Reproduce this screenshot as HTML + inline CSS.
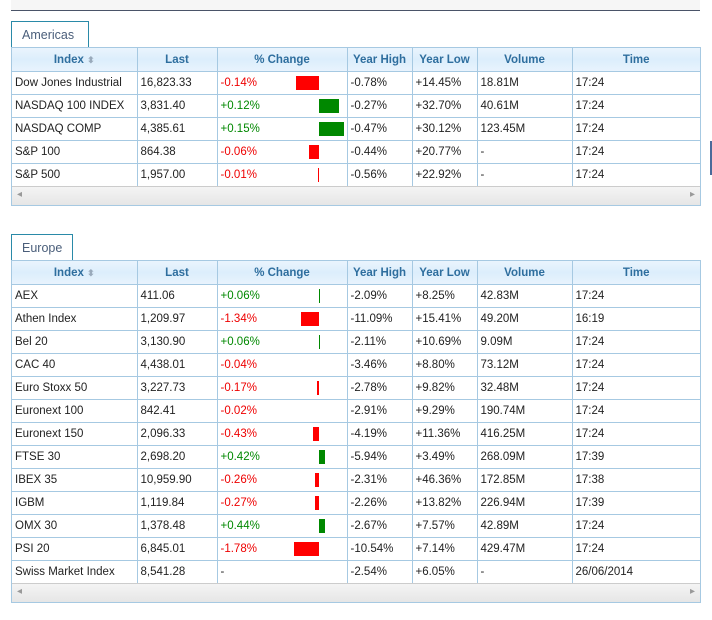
<!DOCTYPE html>
<html><head><style>
body{margin:0;width:712px;height:620px;background:#fff;position:relative;overflow:hidden;font-family:"Liberation Sans",Arial,sans-serif;font-size:11.5px;color:#222}
.top{position:absolute;top:0;height:10px;background:#f6f6f6;border-bottom:1px solid #4a5468;left:11px;width:689px}
.tab{position:absolute;left:11px;height:27px;border:1px solid #2a8aa8;border-bottom:none;background:#fff;color:#4a5e7a;font-size:12.5px;line-height:27px;padding:0 10px;box-sizing:border-box}
.wrap{position:absolute;left:11px;width:690px;border:1px solid #a6c9e2;box-sizing:border-box;background:#fff}
table{border-collapse:collapse;table-layout:fixed;width:688px}
th{height:23px;padding:0;background:linear-gradient(#eaf4fd,#dceefc 50%,#e8f3fd);color:#2e6e9e;font-weight:bold;font-size:11.5px;border-left:1px solid #a6c9e2;border-bottom:1px solid #a6c9e2;text-align:center}
td{height:22px;padding:0 0 0 3px;border-left:1px solid #a6c9e2;border-top:1px solid #a6c9e2;white-space:nowrap;overflow:hidden;position:relative}
tr:first-child td{border-top:1px dotted #555}
th:first-child,td:first-child{border-left:none}
.r{color:#e00}.g{color:#080}
.b{position:absolute;top:4px;height:14px;margin-left:-2px}
.rb{background:#f00}.gb{background:#080}
.sb{height:18px;background:linear-gradient(#f4f4f4,#e6e6e6);border-top:1px solid #ccc;position:relative}
.sb:before{content:"◂";position:absolute;left:5px;top:2px;color:#999;font-size:10px}
.sb:after{content:"▸";position:absolute;right:5px;top:2px;color:#999;font-size:10px}
.sort{color:#9ab;font-size:9px}
.side{position:absolute;left:710px;top:141px;width:2px;height:34px;background:#4a6a9a}
</style></head><body>
<div class="top"></div>
<div class="side"></div>
<div class="tab" style="top:21px;width:78px">Americas</div>
<div class="wrap" style="top:47px">
<table>
<colgroup><col style="width:125px"><col style="width:80px"><col style="width:130px"><col style="width:65px"><col style="width:65px"><col style="width:95px"><col style="width:128px"></colgroup>
<tr><th>Index <span class="sort">⬍</span></th><th>Last</th><th>% Change</th><th>Year High</th><th>Year Low</th><th>Volume</th><th>Time</th></tr>
<tr><td>Dow Jones Industrial</td><td>16,823.33</td><td class="r">-0.14%<span class="b rb" style="left:80px;width:23px"></span></td><td>-0.78%</td><td>+14.45%</td><td>18.81M</td><td>17:24</td></tr>
<tr><td>NASDAQ 100 INDEX</td><td>3,831.40</td><td class="g">+0.12%<span class="b gb" style="left:103px;width:20px"></span></td><td>-0.27%</td><td>+32.70%</td><td>40.61M</td><td>17:24</td></tr>
<tr><td>NASDAQ COMP</td><td>4,385.61</td><td class="g">+0.15%<span class="b gb" style="left:103px;width:25px"></span></td><td>-0.47%</td><td>+30.12%</td><td>123.45M</td><td>17:24</td></tr>
<tr><td>S&amp;P 100</td><td>864.38</td><td class="r">-0.06%<span class="b rb" style="left:93px;width:10px"></span></td><td>-0.44%</td><td>+20.77%</td><td>-</td><td>17:24</td></tr>
<tr><td>S&amp;P 500</td><td>1,957.00</td><td class="r">-0.01%<span class="b rb" style="left:102px;width:1px"></span></td><td>-0.56%</td><td>+22.92%</td><td>-</td><td>17:24</td></tr>
</table>
<div class="sb"></div>
</div>

<div class="tab" style="top:234px;width:62px">Europe</div>
<div class="wrap" style="top:260px">
<table>
<colgroup><col style="width:125px"><col style="width:80px"><col style="width:130px"><col style="width:65px"><col style="width:65px"><col style="width:95px"><col style="width:128px"></colgroup>
<tr><th>Index <span class="sort">⬍</span></th><th>Last</th><th>% Change</th><th>Year High</th><th>Year Low</th><th>Volume</th><th>Time</th></tr>
<tr><td>AEX</td><td>411.06</td><td class="g">+0.06%<span class="b gb" style="left:103px;width:1px"></span></td><td>-2.09%</td><td>+8.25%</td><td>42.83M</td><td>17:24</td></tr>
<tr><td>Athen Index</td><td>1,209.97</td><td class="r">-1.34%<span class="b rb" style="left:85px;width:18px"></span></td><td>-11.09%</td><td>+15.41%</td><td>49.20M</td><td>16:19</td></tr>
<tr><td>Bel 20</td><td>3,130.90</td><td class="g">+0.06%<span class="b gb" style="left:103px;width:1px"></span></td><td>-2.11%</td><td>+10.69%</td><td>9.09M</td><td>17:24</td></tr>
<tr><td>CAC 40</td><td>4,438.01</td><td class="r">-0.04%</td><td>-3.46%</td><td>+8.80%</td><td>73.12M</td><td>17:24</td></tr>
<tr><td>Euro Stoxx 50</td><td>3,227.73</td><td class="r">-0.17%<span class="b rb" style="left:101px;width:2px"></span></td><td>-2.78%</td><td>+9.82%</td><td>32.48M</td><td>17:24</td></tr>
<tr><td>Euronext 100</td><td>842.41</td><td class="r">-0.02%</td><td>-2.91%</td><td>+9.29%</td><td>190.74M</td><td>17:24</td></tr>
<tr><td>Euronext 150</td><td>2,096.33</td><td class="r">-0.43%<span class="b rb" style="left:97px;width:6px"></span></td><td>-4.19%</td><td>+11.36%</td><td>416.25M</td><td>17:24</td></tr>
<tr><td>FTSE 30</td><td>2,698.20</td><td class="g">+0.42%<span class="b gb" style="left:103px;width:6px"></span></td><td>-5.94%</td><td>+3.49%</td><td>268.09M</td><td>17:39</td></tr>
<tr><td>IBEX 35</td><td>10,959.90</td><td class="r">-0.26%<span class="b rb" style="left:99px;width:4px"></span></td><td>-2.31%</td><td>+46.36%</td><td>172.85M</td><td>17:38</td></tr>
<tr><td>IGBM</td><td>1,119.84</td><td class="r">-0.27%<span class="b rb" style="left:99px;width:4px"></span></td><td>-2.26%</td><td>+13.82%</td><td>226.94M</td><td>17:39</td></tr>
<tr><td>OMX 30</td><td>1,378.48</td><td class="g">+0.44%<span class="b gb" style="left:103px;width:6px"></span></td><td>-2.67%</td><td>+7.57%</td><td>42.89M</td><td>17:24</td></tr>
<tr><td>PSI 20</td><td>6,845.01</td><td class="r">-1.78%<span class="b rb" style="left:78px;width:25px"></span></td><td>-10.54%</td><td>+7.14%</td><td>429.47M</td><td>17:24</td></tr>
<tr><td>Swiss Market Index</td><td>8,541.28</td><td>-</td><td>-2.54%</td><td>+6.05%</td><td>-</td><td>26/06/2014</td></tr>
</table>
<div class="sb"></div>
</div>
</body></html>
